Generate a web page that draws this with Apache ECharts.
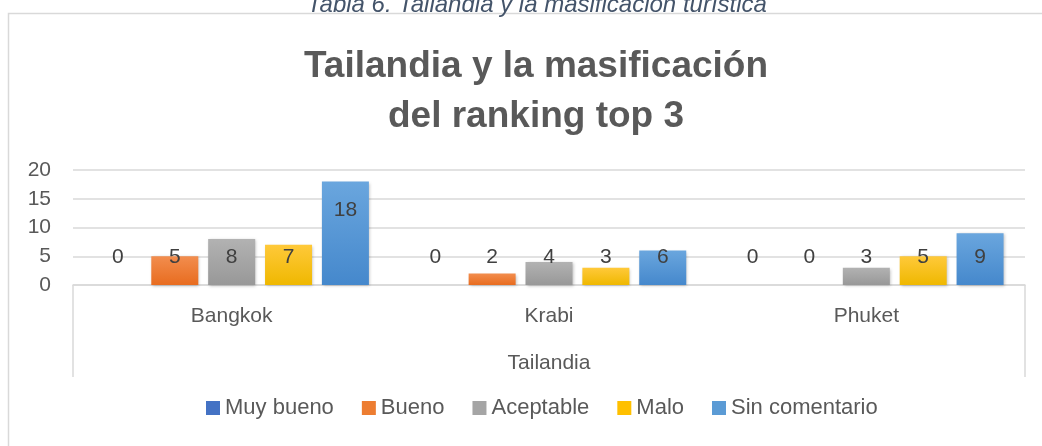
<!DOCTYPE html>
<html>
<head>
<meta charset="utf-8">
<title>Tailandia y la masificación</title>
<script src="https://cdn.jsdelivr.net/npm/echarts@6/dist/echarts.min.js"></script>
<style>html, body {margin: 0; padding: 0; background: #fff;} #main {width: 1042px; height: 446px;}</style>
</head>
<body>
<div id="main"></div>
<script type="text/javascript">
var categories = ['Bangkok', 'Krabi', 'Phuket'];
var groupLabel = ['Tailandia'];
var seriesNames = ['Muy bueno', 'Bueno', 'Aceptable', 'Malo', 'Sin comentario'];
var muyBueno = [0, 0, 0];
var bueno = [5, 2, 0];
var aceptable = [8, 4, 3];
var malo = [7, 3, 5];
var sinComentario = [18, 6, 9];
var yTicks = [0, 5, 10, 15, 20];

var seriesValues = [muyBueno, bueno, aceptable, malo, sinComentario];
var colors = [
  ['#5a86d0', '#3c66b8'],
  ['#f28d4e', '#e86c1f'],
  ['#b2b2b2', '#989898'],
  ['#ffc93a', '#efb800'],
  ['#6aa6de', '#4588cc']
];
var legendColors = ['#4472c4', '#ed7d31', '#a5a5a5', '#ffc000', '#5b9bd5'];
var font = "'Liberation Sans', Arial, sans-serif";

var chart = echarts.init(document.getElementById('main'));

var series = seriesNames.map(function (name, i) {
  return {
    name: name,
    type: 'bar',
    barWidth: 47,
    barGap: '21%',
    itemStyle: {
      color: new echarts.graphic.LinearGradient(0, 0, 0, 1, [
        {offset: 0, color: colors[i][0]},
        {offset: 1, color: colors[i][1]}
      ]),
      shadowColor: 'rgba(0,0,0,0.25)',
      shadowBlur: 3,
      shadowOffsetX: 1,
      shadowOffsetY: 1
    },
    label: {
      show: true,
      position: 'insideBottom',
      distance: 17,
      fontFamily: font,
      fontSize: 21,
      color: '#404040'
    },
    data: seriesValues[i].map(function (v) {
      if (v > 10) {
        return {value: v, label: {position: 'insideTop', distance: 18}};
      }
      return v;
    })
  };
});

var option = {
  animation: false,
  color: legendColors,
  title: [{
    text: 'Tailandia y la masificación\ndel ranking top 3',
    left: 531,
    top: 37,
    textAlign: 'center',
    textStyle: {
      fontFamily: font,
      fontWeight: 'bold',
      fontSize: 37,
      lineHeight: 50,
      color: '#595959'
    }
  }, {
    text: 'Tabla 6. Tailandia y la masificación turística',
    left: 532,
    top: -12,
    textAlign: 'center',
    textStyle: {
      fontFamily: font,
      fontStyle: 'italic',
      fontWeight: 'normal',
      fontSize: 24,
      color: '#44546a'
    }
  }],
  legend: {
    data: seriesNames.map(function (n, i) {
      return {name: n, itemStyle: {color: legendColors[i]}};
    }),
    bottom: 22,
    left: 201,
    icon: 'rect',
    itemWidth: 14,
    itemHeight: 14,
    itemGap: 28,
    textStyle: {fontFamily: font, fontSize: 22, color: '#595959'}
  },
  grid: {left: 73, right: 17, top: 170, bottom: 161, containLabel: false},
  xAxis: [{
    type: 'category',
    data: categories,
    axisLine: {show: true, lineStyle: {color: '#d9d9d9', width: 1.5}},
    axisTick: {show: false},
    axisLabel: {fontFamily: font, fontSize: 21, color: '#595959', margin: 21}
  }, {
    type: 'category',
    data: groupLabel,
    position: 'bottom',
    offset: 92,
    axisLine: {show: false},
    axisTick: {show: true, inside: true, length: 92, lineStyle: {color: '#d9d9d9', width: 1.5}},
    axisLabel: {fontFamily: font, fontSize: 21, color: '#595959', margin: -24}
  }],
  yAxis: {
    type: 'value',
    min: yTicks[0],
    max: yTicks[yTicks.length - 1],
    interval: 5,
    axisLine: {show: false},
    axisTick: {show: false},
    axisLabel: {fontFamily: font, fontSize: 21, color: '#595959', margin: 22},
    splitLine: {lineStyle: {color: '#d9d9d9', width: 1.5}}
  },
  graphic: [{
    type: 'rect',
    shape: {x: 8.5, y: 13.5, width: 1100, height: 500},
    style: {fill: 'none', stroke: '#d9d9d9', lineWidth: 1.5},
    silent: true,
    z: -10
  }],
  series: series
};
chart.setOption(option);
</script>
</body>
</html>
